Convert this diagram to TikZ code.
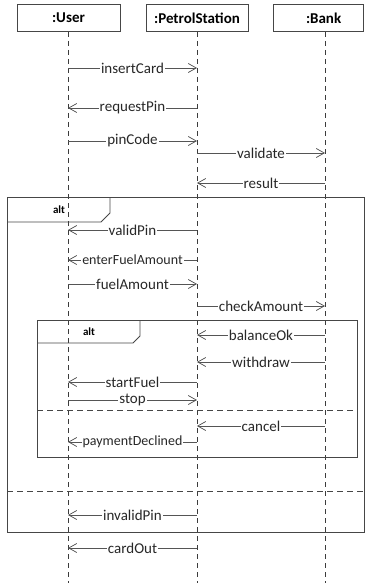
\documentclass[tikz,border=0pt]{standalone}
\usepackage{fontspec}
\setmainfont{Carlito}
\usetikzlibrary{arrows.meta}

\tikzset{every picture/.style={line width=0.75pt}}
\tikzset{
  obj/.style={draw={rgb, 255:red, 70; green, 70; blue, 70}, fill=white, minimum height=27pt, inner sep=0pt, font=\fontsize{15}{17}\selectfont\bfseries},
  life/.style={draw={rgb, 255:red, 60; green, 60; blue, 60}, dash pattern=on 5pt off 4pt},
  msg/.style={draw={rgb, 255:red, 85; green, 85; blue, 85}, -{Straight Barb[length=8pt,width=9pt]}},
  lbl/.style={fill=white, inner sep=1pt, text={rgb, 255:red, 40; green, 40; blue, 40}, font=\fontsize{15}{17}\selectfont},
  small/.style={font=\fontsize{14}{16}\selectfont},
  frm/.style={draw={rgb, 255:red, 70; green, 70; blue, 70}},
  sep/.style={draw={rgb, 255:red, 70; green, 70; blue, 70}, dash pattern=on 6pt off 4pt},
  tag/.style={inner sep=0pt, font=\fontsize{11}{13}\selectfont\bfseries}
}

\begin{document}
\begin{tikzpicture}[x=1pt,y=1pt,yscale=-1,xscale=1]
        \useasboundingbox (0,0) rectangle (373,583); %set diagram size to 373 x 583

        %Lifelines
        \coordinate (uTop) at (68,32);
        \coordinate (pTop) at (197,32);
        \coordinate (bTop) at (325,32);
        \draw [life]   (uTop) -- (68,583) ;
        \draw [life]   (pTop) -- (197,583) ;
        \draw [life]   (bTop) -- (325,583) ;

        %Shape: Rectangle (objects)
        \node [obj, minimum width=103pt] (user) at (68.5,18) {:User};
        \node [obj, minimum width=102pt] (petrol) at (197,18) {:PetrolStation};
        \node [obj, minimum width=90pt] (bank) at (318,18) {\makebox[90pt][l]{\hspace{33pt}:Bank}};

        %Shape: Frame (outer alt)
        \draw [frm]   (7,197) rectangle (364,532) ;
        \draw [frm]   (7,222) -- (101,222) -- (110,213) -- (110,197) ;
        \draw (59,210) node [tag] (altA) {alt};
        \draw [sep]   (7,491) -- (364,491) ;

        %Shape: Frame (inner alt)
        \draw [frm]   (37,320) rectangle (357,457) ;
        \draw [frm]   (37,343) -- (133,343) -- (140,336) -- (140,320) ;
        \draw (89,332) node [tag] (altB) {alt};
        \draw [sep]   (37,410) -- (357,410) ;

        %Messages: end points
        \coordinate (u1) at (68,68);    \coordinate (p1) at (197,68);
        \coordinate (p2) at (197,108);  \coordinate (u2) at (68,108);
        \coordinate (u3) at (68,141);   \coordinate (p3) at (197,141);
        \coordinate (p4) at (197,153);  \coordinate (b4) at (325,153);
        \coordinate (b5) at (325,183);  \coordinate (p5) at (197,183);
        \coordinate (p6) at (197,230);  \coordinate (u6) at (68,230);
        \coordinate (p7) at (197,260);  \coordinate (u7) at (68,260);
        \coordinate (u8) at (68,284);   \coordinate (p8) at (197,284);
        \coordinate (p9) at (197,306);  \coordinate (b9) at (325,306);
        \coordinate (b10) at (325,335); \coordinate (p10) at (197,335);
        \coordinate (b11) at (325,362); \coordinate (p11) at (197,362);
        \coordinate (p12) at (197,382); \coordinate (u12) at (68,382);
        \coordinate (u13) at (68,400);  \coordinate (p13) at (197,400);
        \coordinate (b14) at (325,426); \coordinate (p14) at (197,426);
        \coordinate (p15) at (197,442); \coordinate (u15) at (68,442);
        \coordinate (p16) at (197,515); \coordinate (u16) at (68,515);
        \coordinate (p17) at (197,548); \coordinate (u17) at (68,548);

        %Straight Lines (messages)
        \draw [msg]   (u1) -- node [lbl] {insertCard} (p1) ;
        \draw [msg]   (p2) -- node [lbl] {requestPin} (u2) ;
        \draw [msg]   (u3) -- node [lbl] {pinCode} (p3) ;
        \draw [msg]   (p4) -- node [lbl] {validate} (b4) ;
        \draw [msg]   (b5) -- node [lbl] {result} (p5) ;
        \draw [msg]   (p6) -- node [lbl] {validPin} (u6) ;
        \draw [msg]   (p7) -- node [lbl, small] {enterFuelAmount} (u7) ;
        \draw [msg]   (u8) -- node [lbl] {fuelAmount} (p8) ;
        \draw [msg]   (p9) -- node [lbl] {checkAmount} (b9) ;
        \draw [msg]   (b10) -- node [lbl] {balanceOk} (p10) ;
        \draw [msg]   (b11) -- node [lbl] {withdraw} (p11) ;
        \draw [msg]   (p12) -- node [lbl] {startFuel} (u12) ;
        \draw [msg]   (u13) -- node [lbl] {stop} (p13) ;
        \draw [msg]   (b14) -- node [lbl] {cancel} (p14) ;
        \draw [msg]   (p15) -- node [lbl, small] {paymentDeclined} (u15) ;
        \draw [msg]   (p16) -- node [lbl] {invalidPin} (u16) ;
        \draw [msg]   (p17) -- node [lbl] {cardOut} (u17) ;

\end{tikzpicture}
\end{document}
